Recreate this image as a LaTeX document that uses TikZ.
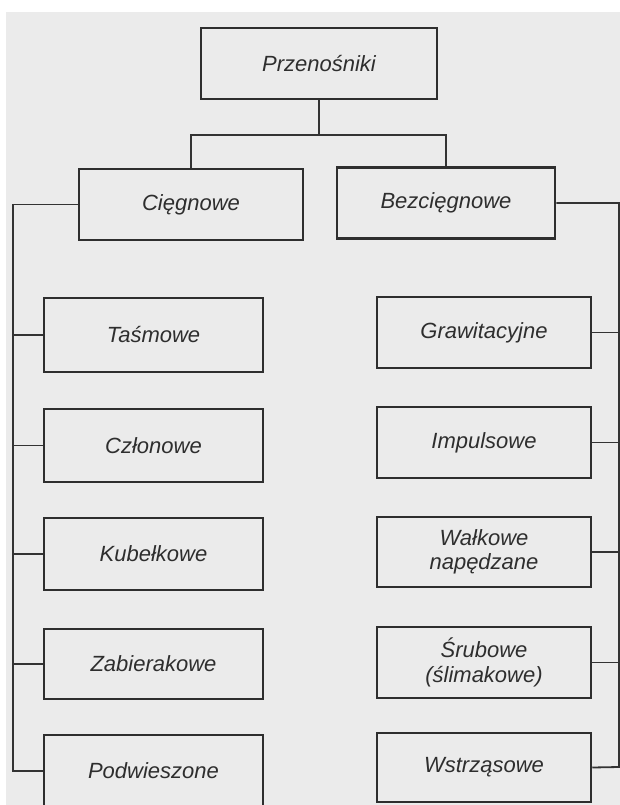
\documentclass[tikz,border=0pt]{standalone}
\usepackage{fontspec}
\setmainfont{Liberation Sans}
\begin{document}
\begin{tikzpicture}[x=1pt,y=-1pt,
  box/.style={draw=black!82, line width=2.5pt, minimum height=71pt, inner sep=0pt,
    align=center, font=\fontsize{22}{25}\selectfont\itshape, text=black!82},
  lbox/.style={box, minimum width=219pt},
  rbox/.style={box, minimum width=214pt},
  conn/.style={draw=black!80, line width=1.8pt}]
\useasboundingbox (0,0) rectangle (620,805);
\clip (0,0) rectangle (620,805);
\fill[white] (0,0) rectangle (620,805);
\fill[black!8] (6,12) rectangle (620,805);
% top levels
\node[box, minimum width=236pt] (P) at (319,63.5) {Przenośniki};
\node[box, minimum width=224pt] (C) at (191,204.5) {Cięgnowe};
\node[box, minimum width=218pt] (B) at (446,203) {Bezcięgnowe};
% left column
\node[lbox, minimum height=74pt] (T) at (153.5,335) {Taśmowe};
\node[lbox, minimum height=73pt] (Cz) at (153.5,445.5) {Członowe};
\node[lbox, minimum height=72pt] (K) at (153.5,554) {Kubełkowe};
\node[lbox, minimum height=70pt] (Z) at (153.5,664) {Zabierakowe};
\node[lbox, minimum height=72pt] (Pd) at (153.5,771) {Podwieszone};
% right column
\node[rbox] (G) at (484,332.5) {Grawitacyjne};
\node[rbox] (I) at (484,442.5) {Impulsowe};
\node[rbox, minimum height=70pt] (W) at (484,552) {\raisebox{-3pt}{Wałkowe}\\[-1pt]\raisebox{-3pt}{napędzane}};
\node[rbox] (S) at (484,662.5) {Śrubowe\\[0pt](ślimakowe)};
\node[rbox, minimum height=69pt] (Ws) at (484,767.5) {Wstrząsowe};
% buses
\coordinate (bus) at (0,135);
\coordinate (lb) at (13,771);
\coordinate (rb) at (619,767);
\draw[conn] (P.south) -- (P.south |- bus);
\draw[conn] (C.north) |- (bus -| P.south) -| (B.north);
\draw[conn] (C.west) -| (lb) -- (Pd.west);
\foreach \n in {T,Cz,K,Z} \draw[conn] (\n.west) -- (\n.west -| lb);
\draw[conn] (B.east) -| (rb) -- (Ws.east);
\foreach \n in {G,I,W,S} \draw[conn] (\n.east) -- (\n.east -| rb);
\end{tikzpicture}
\end{document}
